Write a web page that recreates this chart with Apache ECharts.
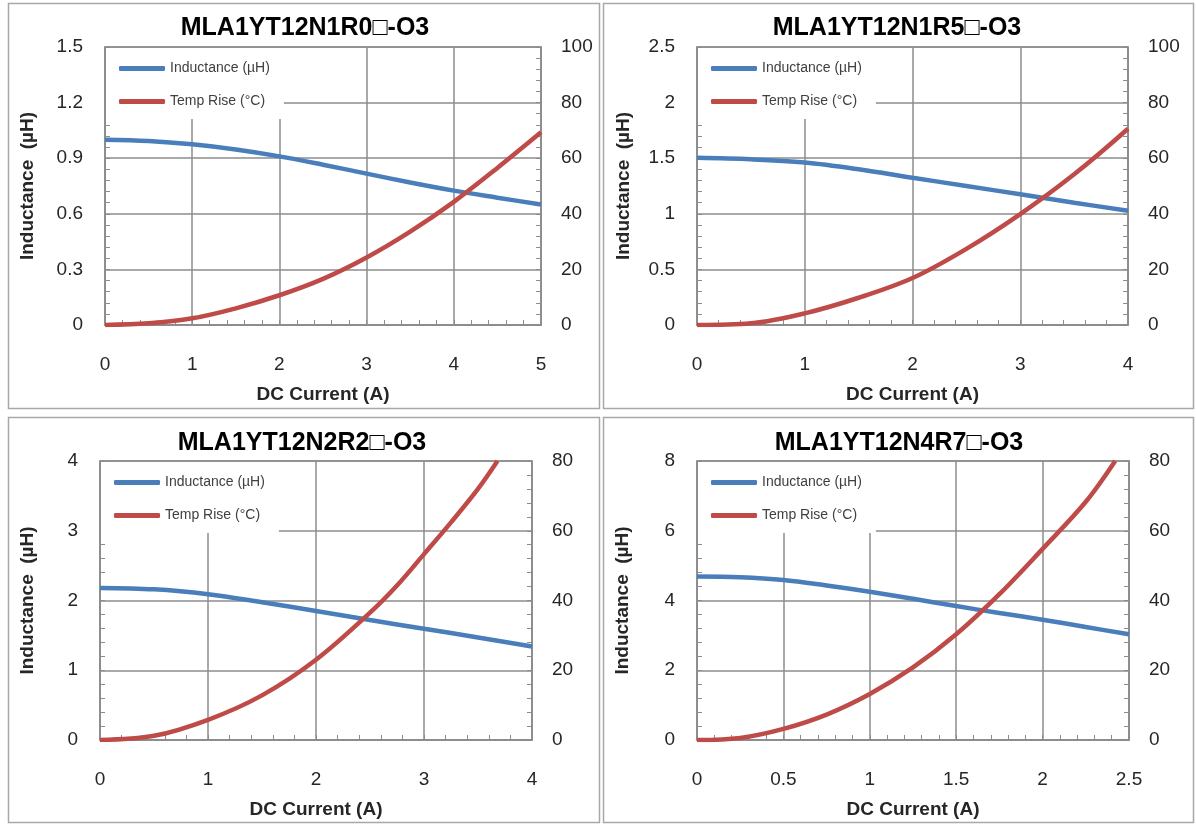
<!DOCTYPE html>
<html>
<head>
<meta charset="utf-8">
<script src="https://cdn.jsdelivr.net/npm/echarts@6/dist/echarts.min.js"></script>
<style>
html,body{margin:0;padding:0;background:#fff;}
#chart{width:1196px;height:825px;}
</style>
</head>
<body>
<div id="chart"></div>
<script>
// ---------- data ----------
const titles = ['MLA1YT12N1R0\u25A1-O3', 'MLA1YT12N1R5\u25A1-O3', 'MLA1YT12N2R2\u25A1-O3', 'MLA1YT12N4R7\u25A1-O3'];
const seriesNames = ['Inductance (\u00B5H)', 'Temp Rise (\u00B0C)'];
const xAxisName = 'DC Current (A)';
const yAxisName = 'Inductance  (\u00B5H)';

// Panel 1
const x1 = [0, 0.5, 1, 1.5, 2, 2.5, 3, 3.5, 4, 4.5, 5];
const ind1 = [1.0, 0.993, 0.975, 0.947, 0.91, 0.865, 0.817, 0.769, 0.725, 0.687, 0.65];
const tx1 = [0, 0.5, 1, 1.5, 2, 2.5, 3, 3.5, 4, 4.5, 5];
const temp1 = [0, 0.6, 2.4, 6.0, 10.7, 16.6, 24.3, 33.6, 44.3, 56.5, 69.3];

// Panel 2
const x2 = [0, 0.5, 1, 1.5, 2, 2.5, 3, 3.5, 4];
const ind2 = [1.503, 1.49, 1.461, 1.40, 1.324, 1.25, 1.176, 1.10, 1.027];
const tx2 = [0, 0.5, 1, 1.5, 2, 2.5, 3, 3.5, 4];
const temp2 = [0, 0.6, 4.2, 9.8, 16.9, 27.4, 39.9, 54.2, 70.6];

// Panel 3
const x3 = [0, 0.5, 1, 1.5, 2, 2.5, 3, 3.5, 4];
const ind3 = [2.18, 2.16, 2.09, 1.975, 1.85, 1.72, 1.595, 1.47, 1.34];
const tx3 = [0, 0.5, 1, 1.5, 2, 2.5, 2.75, 3, 3.25, 3.5, 3.68];
const temp3 = [0, 1.2, 5.8, 12.8, 23, 36.5, 44.3, 53.3, 62.4, 72, 80];

// Panel 4
const x4 = [0, 0.25, 0.5, 0.75, 1, 1.25, 1.5, 1.75, 2, 2.25, 2.5];
const ind4 = [4.69, 4.67, 4.59, 4.43, 4.25, 4.05, 3.84, 3.64, 3.45, 3.24, 3.03];
const tx4 = [0, 0.25, 0.5, 0.75, 1, 1.25, 1.5, 1.75, 2, 2.25, 2.42];
const temp4 = [0, 0.6, 3.2, 7.3, 13.2, 20.8, 30.3, 41.8, 54.8, 68.3, 80];

// axis scales
const xMax = [5, 4, 4, 2.5];
const xStep = [1, 1, 1, 0.5];
const yLeftMax = [1.5, 2.5, 4, 8];
const yLeftStep = [0.3, 0.5, 1, 2];
const yRightMax = [100, 100, 80, 80];
const yRightStep = [20, 20, 20, 20];

const indData = [[x1, ind1], [x2, ind2], [x3, ind3], [x4, ind4]];
const tempData = [[tx1, temp1], [tx2, temp2], [tx3, temp3], [tx4, temp4]];

// ---------- layout (styles / positions) ----------
const layout = [
  { left: 105, top: 47, width: 436, height: 278, titleX: 300, titleY: 11, nameGap: 68, box: [8, 3, 591, 405] },
  { left: 697, top: 47, width: 431, height: 278, titleX: 892, titleY: 11, nameGap: 64, box: [603, 3, 590, 405] },
  { left: 100, top: 461, width: 432, height: 279, titleX: 297, titleY: 426, nameGap: 63, box: [8, 417, 591, 405] },
  { left: 697, top: 461, width: 432, height: 279, titleX: 894, titleY: 426, nameGap: 65, box: [603, 417, 590, 405] }
];

const FONT = '"Liberation Sans", Arial, sans-serif';
const GRIDC = '#8c8c8c';
const TXT = '#262626';
const BLUE = '#4A7EBB';
const RED = '#BE4B48';

const toPairs = (xs, ys) => xs.map((x, i) => [x, ys[i]]);

const option = {
  backgroundColor: '#fff',
  animation: false,
  title: [], grid: [], xAxis: [], yAxis: [], legend: [], series: [],
  graphic: []
};

layout.forEach((L, i) => {
  option.graphic.push({
    type: 'rect', silent: true, z: -1,
    shape: { x: L.box[0] + 0.5, y: L.box[1] + 0.5, width: L.box[2], height: L.box[3] },
    style: { fill: 'none', stroke: '#a8a8a8', lineWidth: 1.5 }
  });
  option.title.push({
    text: titles[i], left: L.titleX, top: L.titleY, textAlign: 'center',
    textStyle: { fontFamily: FONT, fontSize: 25, fontWeight: 'bold', color: '#000' }
  });
  option.grid.push({
    left: L.left, top: L.top, width: L.width, height: L.height,
    show: true, borderColor: GRIDC, borderWidth: 1.5, backgroundColor: 'transparent'
  });
  option.xAxis.push({
    type: 'value', gridIndex: i, min: 0, max: xMax[i], interval: xStep[i],
    name: xAxisName, nameLocation: 'middle', nameGap: 60,
    nameTextStyle: { fontFamily: FONT, fontSize: 19, fontWeight: 'bold', color: TXT },
    axisLine: { show: true, lineStyle: { color: GRIDC, width: 1.5 } },
    axisTick: { show: true, inside: true, length: 5, lineStyle: { color: GRIDC } },
    minorTick: { show: true, splitNumber: 5, length: 5, lineStyle: { color: GRIDC } },
    axisLabel: { margin: 30, fontFamily: FONT, fontSize: 19, color: TXT },
    splitLine: { show: true, lineStyle: { color: GRIDC, width: 1.5 } }
  });
  option.yAxis.push({
    type: 'value', gridIndex: i, position: 'left', min: 0, max: yLeftMax[i], interval: yLeftStep[i],
    name: yAxisName, nameLocation: 'middle', nameGap: L.nameGap,
    nameTextStyle: { fontFamily: FONT, fontSize: 19, fontWeight: 'bold', color: TXT },
    axisLine: { show: true, lineStyle: { color: GRIDC, width: 1.5 } },
    axisTick: { show: true, inside: true, length: 5, lineStyle: { color: GRIDC } },
    minorTick: { show: true, splitNumber: 5, length: 5, lineStyle: { color: GRIDC } },
    axisLabel: { margin: 22, fontFamily: FONT, fontSize: 19, color: TXT },
    splitLine: { show: true, lineStyle: { color: GRIDC, width: 1.5 } }
  });
  option.yAxis.push({
    type: 'value', gridIndex: i, position: 'right', min: 0, max: yRightMax[i], interval: yRightStep[i],
    axisLine: { show: true, lineStyle: { color: GRIDC, width: 1.5 } },
    axisTick: { show: true, inside: true, length: 5, lineStyle: { color: GRIDC } },
    minorTick: { show: true, splitNumber: 5, length: 5, lineStyle: { color: GRIDC } },
    axisLabel: { margin: 20, fontFamily: FONT, fontSize: 19, color: TXT },
    splitLine: { show: false }
  });
  option.legend.push({
    orient: 'vertical', left: L.left + 1, top: L.top + 1,
    data: seriesNames, icon: 'roundRect', itemWidth: 46, itemHeight: 5, itemGap: 18,
    backgroundColor: '#fff', padding: [13, 14, 10, 13],
    textStyle: { fontFamily: FONT, fontSize: 14, color: '#404040', lineHeight: 15 },
    selectedMode: false, z: 3
  });
  option.series.push({
    name: seriesNames[0], type: 'line', xAxisIndex: i, yAxisIndex: i * 2,
    data: toPairs(indData[i][0], indData[i][1]), smooth: 0.35, showSymbol: false,
    lineStyle: { color: BLUE, width: 4.5 }, itemStyle: { color: BLUE }, z: 5
  });
  option.series.push({
    name: seriesNames[1], type: 'line', xAxisIndex: i, yAxisIndex: i * 2 + 1,
    data: toPairs(tempData[i][0], tempData[i][1]), smooth: 0.35, showSymbol: false,
    lineStyle: { color: RED, width: 4.5 }, itemStyle: { color: RED }, z: 5
  });
});

const chart = echarts.init(document.getElementById('chart'));
chart.setOption(option);
</script>
</body>
</html>
